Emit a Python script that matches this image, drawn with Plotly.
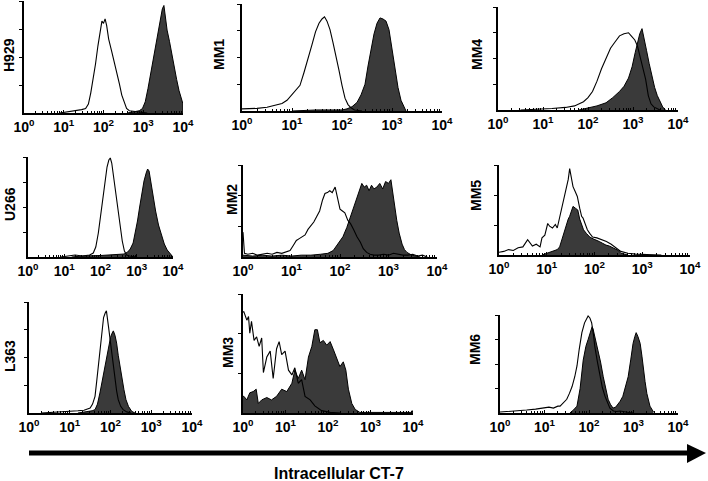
import plotly.graph_objects as go

# ---------------- DATA (x = log10 of intensity, y = % of axis height) ----------------
panel_names = ["H929", "MM1", "MM4", "U266", "MM2", "MM5", "L363", "MM3", "MM6"]
decade_labels = ["10<sup>0</sup>", "10<sup>1</sup>", "10<sup>2</sup>", "10<sup>3</sup>", "10<sup>4</sup>"]
axis_title = "Intracellular CT-7"

H929_open_x = [0.9,1.1,1.3,1.45,1.55,1.62,1.68,1.74,1.8,1.86,1.92,1.96,2.0,2.04,2.08,2.13,2.2,2.27,2.34,2.4,2.46,2.52,2.58,2.65,2.8,3.0,3.1]
H929_open_y = [0,1,2,3,4,8,18,30,44,60,76,82,80,84,78,66,56,46,36,26,16,9,4,2,1.5,1,0]
H929_fill_x = [2.6,2.8,2.9,2.98,3.05,3.12,3.2,3.27,3.34,3.4,3.45,3.48,3.52,3.56,3.6,3.66,3.72,3.78,3.84,3.9,3.96,4.0,4.0]
H929_fill_y = [0,1,2,4,10,22,38,54,68,80,90,93,96,86,74,64,52,42,30,20,12,8,0]

MM1_open_x = [0,0.1,0.3,0.5,0.65,0.8,0.9,1.0,1.08,1.16,1.24,1.32,1.4,1.47,1.54,1.6,1.65,1.7,1.76,1.82,1.88,1.94,2.0,2.06,2.12,2.18,2.25,2.4]
MM1_open_y = [2,2,2.5,3.5,5,7,10,15,19,24,36,48,62,74,82,86,88,84,76,64,52,38,24,12,6,3,1,0]
MM1_fill_x = [1.0,1.5,2.0,2.1,2.2,2.3,2.38,2.46,2.52,2.58,2.64,2.7,2.76,2.82,2.88,2.94,3.0,3.06,3.12,3.18,3.24,3.28]
MM1_fill_y = [0,1,1,2,4,8,15,25,42,58,72,82,87,86,84,76,58,40,22,10,3,0]

MM4_open_x = [0.5,0.8,1.2,1.5,1.7,1.9,2.0,2.1,2.2,2.3,2.4,2.5,2.6,2.7,2.8,2.9,2.96,3.04,3.1,3.16,3.22,3.28,3.34,3.4,3.46,3.55,3.6]
MM4_open_y = [0,0.5,1.5,2.5,4,8,12,18,28,40,50,60,66,72,74,75,72,68,62,52,42,30,14,6,3,1,0]
MM4_fill_x = [1.8,2.0,2.2,2.4,2.55,2.7,2.8,2.9,2.98,3.05,3.1,3.15,3.2,3.25,3.3,3.36,3.42,3.48,3.54,3.6,3.66,3.72]
MM4_fill_y = [0,2,4,7,12,18,23,31,42,56,66,74,79,70,58,45,32,22,14,8,3,0]

U266_open_x = [0.9,1.1,1.3,1.5,1.7,1.8,1.87,1.94,2.0,2.06,2.12,2.18,2.23,2.27,2.31,2.36,2.42,2.48,2.54,2.6,2.66,2.72,2.8,3.0]
U266_open_y = [0,1,2,1,2,4,10,24,42,58,76,90,97,99,94,80,64,46,30,16,6,2,1,0]
U266_fill_x = [1.2,1.5,2.0,2.3,2.5,2.65,2.75,2.82,2.9,2.96,3.02,3.08,3.14,3.2,3.26,3.3,3.34,3.4,3.46,3.52,3.6,3.68,3.76,3.84,3.92,3.98,4.0]
U266_fill_y = [0,1,1.5,2,2.5,3,5,8,14,24,36,50,64,76,84,88,86,72,58,46,32,22,13,7,3,1,0]

MM2_open_x = [0,0.03,0.1,0.2,0.3,0.4,0.5,0.6,0.7,0.8,0.9,0.97,1.03,1.1,1.16,1.22,1.28,1.34,1.4,1.46,1.52,1.58,1.64,1.69,1.74,1.79,1.84,1.9,1.95,2.0,2.05,2.1,2.16,2.22,2.28,2.35,2.42,2.48,2.55,2.62,2.7,2.8,2.9,3.0,3.1,3.2,3.3,3.4,3.5,3.6,3.7,3.8]
MM2_open_y = [27,4,3,4,2,3,4,3,5,4,6,7,12,18,20,22,24,30,34,38,44,50,62,69,70,72,70,76,64,52,50,48,40,36,30,22,16,9,5,3,2,2,3,2,4,3,2,2,3,1,2,0]
MM2_fill_x = [0,0.2,0.4,0.6,0.8,1.0,1.2,1.4,1.6,1.75,1.86,1.96,2.06,2.14,2.21,2.28,2.35,2.4,2.45,2.5,2.55,2.6,2.65,2.7,2.76,2.82,2.88,2.94,3.0,3.05,3.1,3.14,3.17,3.22,3.28,3.33,3.38,3.48,3.59,3.65]
MM2_fill_y = [2,1,2,1,2,1,2,2,3,4,7,14,22,32,43,55,65,74,80,76,78,72,78,74,76,80,74,82,80,84,65,50,40,26,14,8,5,2,1,0]

MM5_open_x = [0,0.1,0.2,0.3,0.4,0.5,0.6,0.7,0.78,0.86,0.9,0.96,1.02,1.06,1.12,1.18,1.22,1.27,1.31,1.36,1.41,1.45,1.48,1.52,1.55,1.6,1.64,1.69,1.73,1.76,1.8,1.85,1.9,1.96,2.05,2.15,2.25,2.35,2.45,2.55,2.7,2.86,3.1,3.4]
MM5_open_y = [3,4,6,5,8,9,17,10,12,9,19,22,35,32,30,34,30,42,50,62,72,84,96,85,76,70,65,52,43,41,34,28,24,20,19,17,15,12,8,4,2,1,0.5,0]
MM5_fill_x = [0.9,1.06,1.15,1.22,1.27,1.32,1.37,1.41,1.45,1.48,1.52,1.55,1.6,1.65,1.69,1.72,1.77,1.83,1.9,1.97,2.03,2.1,2.17,2.24,2.31,2.38,2.45,2.5,2.55,2.62,2.7]
MM5_fill_y = [0,3,5,6,9,18,28,35,40,43,50,54,52,50,40,35,28,24,20,18,17,15,13,11,10,8,6,5,2,1,0]

L363_open_x = [0.3,0.6,0.9,1.1,1.2,1.35,1.5,1.56,1.62,1.66,1.7,1.75,1.79,1.83,1.87,1.9,1.95,1.99,2.03,2.07,2.11,2.15,2.19,2.25,2.31,2.4,2.5]
L363_open_y = [0,0.5,1,1.5,2,2.5,4.5,8,15,28,42,60,75,86,90,92,78,66,54,42,30,20,12,6,3,1,0]
L363_fill_x = [1.2,1.4,1.55,1.62,1.68,1.74,1.8,1.87,1.91,1.95,2.0,2.04,2.07,2.11,2.15,2.19,2.23,2.28,2.33,2.38,2.44,2.52,2.6]
L363_fill_y = [0,1,2,3,8,18,30,42,52,60,68,72,74,70,63,52,42,31,21,12,6,1.5,0]

MM3_open_x = [0.0,0.02,0.09,0.13,0.16,0.2,0.26,0.32,0.38,0.44,0.48,0.56,0.64,0.71,0.79,0.85,0.91,0.99,1.07,1.15,1.22,1.3,1.38,1.46,1.58,1.69,1.85,2.05,2.3]
MM3_open_y = [85,85,78,81,67,77,61,64,56,63,34,47,52,29,54,60,49,52,36,32,38,25,28,14,11,6,2,0.5,0]
MM3_fill_x = [0.0,0.02,0.09,0.16,0.24,0.31,0.36,0.44,0.56,0.67,0.79,0.91,1.03,1.15,1.22,1.3,1.38,1.46,1.54,1.62,1.69,1.75,1.81,1.89,1.97,2.05,2.13,2.2,2.28,2.36,2.42,2.48,2.56,2.64,2.75,3.0,3.5,3.95,3.98,4.0]
MM3_fill_y = [14,14,11,17,18,20,8,11,13,11,14,20,18,25,36,29,36,28,47,56,70,70,59,61,57,60,53,47,39,43,36,20,8,3,0.5,0.5,0.5,0.5,2,0]

MM6_open_x = [0,0.2,0.4,0.6,0.8,1.0,1.1,1.2,1.3,1.35,1.42,1.5,1.56,1.62,1.68,1.73,1.78,1.84,1.9,1.95,1.98,2.02,2.06,2.1,2.13,2.19,2.25,2.3,2.36,2.42,2.47,2.55,2.62,2.7,2.8,2.9,3.0]
MM6_open_y = [1,1.5,2,3,4,5,6,5,7,7,10,14,20,27,37,48,65,82,92,96,99,97,92,80,68,52,37,26,17,10,5,2,1.5,2,1,0.5,0]
MM6_fill_x = [1.57,1.65,1.73,1.8,1.87,1.93,1.98,2.03,2.07,2.09,2.12,2.16,2.2,2.26,2.32,2.38,2.43,2.48,2.54,2.6,2.65,2.7,2.76,2.82,2.88,2.94,2.99,3.03,3.06,3.1,3.15,3.19,3.22,3.26,3.3,3.34,3.37,3.45]
MM6_fill_y = [0,3,7,25,54,68,75,82,88,86,80,72,65,52,37,24,14,9,5,6,9,12,17,26,37,55,71,78,82,78,71,58,44,32,20,12,7,1]

series = {
    "H929": (H929_open_x, H929_open_y, H929_fill_x, H929_fill_y),
    "MM1": (MM1_open_x, MM1_open_y, MM1_fill_x, MM1_fill_y),
    "MM4": (MM4_open_x, MM4_open_y, MM4_fill_x, MM4_fill_y),
    "U266": (U266_open_x, U266_open_y, U266_fill_x, U266_fill_y),
    "MM2": (MM2_open_x, MM2_open_y, MM2_fill_x, MM2_fill_y),
    "MM5": (MM5_open_x, MM5_open_y, MM5_fill_x, MM5_fill_y),
    "L363": (L363_open_x, L363_open_y, L363_fill_x, L363_fill_y),
    "MM3": (MM3_open_x, MM3_open_y, MM3_fill_x, MM3_fill_y),
    "MM6": (MM6_open_x, MM6_open_y, MM6_fill_x, MM6_fill_y),
}

# ---------------- LAYOUT (pixel geometry of each panel) ----------------
W, H = 708, 481
# name: (x_left, x_right, y_top, y_base, n_divisions, label_x, label_y)
geom = {
    "H929": (24, 183, 1, 113, 4, 9, 55),
    "MM1": (242, 442, 4, 111, 4, 219, 55),
    "MM4": (498, 678, 7, 110, 4, 477, 55),
    "U266": (28, 173, 157, 257, 4, 10, 204),
    "MM2": (243, 437, 165, 257, 3, 232, 199),
    "MM5": (499, 690, 165, 255, 3, 476, 196),
    "L363": (29, 192, 302, 413, 4, 10, 356),
    "MM3": (243, 413, 294, 413, 3, 228, 352),
    "MM6": (500, 678, 315, 413, 4, 475, 349),
}

FONT = "Liberation Sans, Arial, sans-serif"
major_vals = [1, 10, 100, 1000, 10000]
major_text = ["<b>%s</b>" % t for t in decade_labels]
minor_vals = [m * 10 ** d for d in range(4) for m in range(2, 10)]

fig = go.Figure()
layout = {}
annotations = []
for i, name in enumerate(panel_names):
    xl, xr, yt, yb, nd, lx, ly = geom[name]
    ox, oy, fx, fy = series[name]
    k = "" if i == 0 else str(i + 1)
    fig.add_trace(go.Scatter(
        x=[10 ** v for v in fx], y=fy, mode="lines", fill="tozeroy",
        fillcolor="#3a3a3a", line=dict(color="black", width=1),
        xaxis="x" + k, yaxis="y" + k, hoverinfo="skip", showlegend=False))
    fig.add_trace(go.Scatter(
        x=[10 ** v for v in ox], y=oy, mode="lines",
        line=dict(color="black", width=1.1),
        xaxis="x" + k, yaxis="y" + k, hoverinfo="skip", showlegend=False))
    layout["xaxis" + k] = dict(
        type="log", range=[0, 4], domain=[xl / W, xr / W], anchor="y" + k,
        automargin=False,
        showgrid=False, zeroline=False, showline=True, linecolor="black", linewidth=1.5,
        ticks="inside", ticklen=3, tickwidth=1, tickcolor="black",
        tickmode="array", tickvals=major_vals, ticktext=major_text,
        minor=dict(tickmode="array", tickvals=minor_vals, ticks="inside",
                   ticklen=2, tickwidth=1, tickcolor="black", showgrid=False),
        tickfont=dict(family=FONT, size=14, color="black", weight="bold"),
        fixedrange=True)
    layout["yaxis" + k] = dict(
        range=[0, 100], domain=[1 - yb / H, 1 - yt / H], anchor="x" + k,
        automargin=False,
        showgrid=False, zeroline=False, showline=True, linecolor="black", linewidth=1.5,
        ticks="outside", ticklen=3, tickwidth=1, tickcolor="black",
        tickmode="array", tickvals=[100 * j / nd for j in range(1, nd + 1)],
        showticklabels=False, fixedrange=True)
    annotations.append(dict(
        text="<b>%s</b>" % name, xref="paper", yref="paper",
        x=lx / W, y=1 - ly / H, xanchor="center", yanchor="middle",
        textangle=-90, showarrow=False,
        font=dict(family=FONT, size=14, color="black")))

annotations.append(dict(
    text="<b>%s</b>" % axis_title, xref="paper", yref="paper",
    x=339 / W, y=1 - 473 / H, xanchor="center", yanchor="middle",
    showarrow=False, font=dict(family=FONT, size=16, color="black")))

shapes = [
    dict(type="rect", xref="paper", yref="paper",
         x0=29 / W, x1=690 / W, y0=1 - 455.5 / H, y1=1 - 450.5 / H,
         fillcolor="black", line=dict(width=0)),
    dict(type="path", xref="paper", yref="paper",
         path="M %f %f L %f %f L %f %f Z" % (687 / W, 1 - 444 / H, 706 / W, 1 - 453 / H, 687 / W, 1 - 463 / H),
         fillcolor="black", line=dict(width=0)),
]

fig.update_layout(
    template="none",
    width=W, height=H, margin=dict(l=0, r=0, t=0, b=0, pad=0, autoexpand=False),
    paper_bgcolor="white", plot_bgcolor="white",
    annotations=annotations, shapes=shapes, **layout)

fig.write_html("out.html", config={"displayModeBar": False},
               post_script="document.body.style.margin='0';document.body.style.overflow='hidden';")
